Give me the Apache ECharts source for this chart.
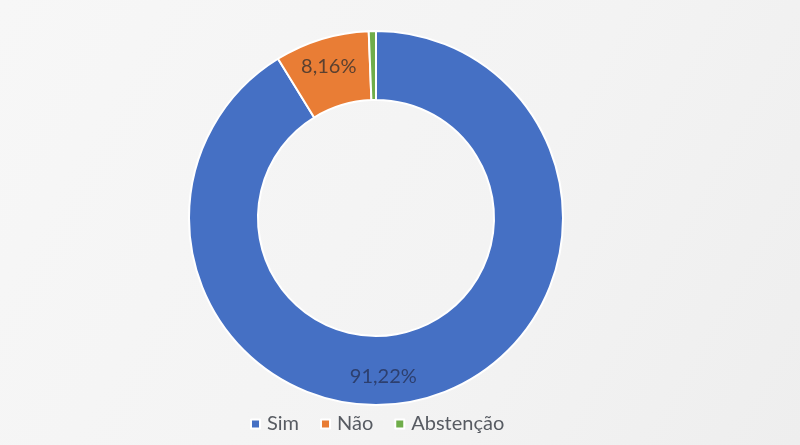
<!DOCTYPE html>
<html><head><meta charset="utf-8">
<script src="https://cdn.jsdelivr.net/npm/echarts@6/dist/echarts.min.js"></script>
<style>html,body{margin:0;padding:0;background:#f5f5f5;}#c{width:800px;height:445px;}</style>
</head><body><div id="c"></div>
<script>
const categories = ['Sim', 'Não', 'Abstenção'];
const values = [91.22, 8.16, 0.62];
const colors = ['#4570C4', '#E97D35', '#6FAD4A'];

const chart = echarts.init(document.getElementById('c'));
chart.setOption({
  backgroundColor: {
    type: 'linear', x: 0, y: 0, x2: 1, y2: 1,
    colorStops: [{offset: 0, color: '#f7f7f7'}, {offset: 0.6, color: '#f3f3f3'}, {offset: 1, color: '#eeeeee'}]
  },
  animation: false,
  color: colors,
  legend: {
    top: 414, left: 250, padding: 0,
    icon: 'rect', itemWidth: 9, itemHeight: 9, itemGap: 21,
    textStyle: {color: '#575b62', fontSize: 20, fontFamily: 'Lato', padding: [0, 0, 0, 2]},
    data: categories
  },
  series: [{
    type: 'pie',
    center: [376, 218],
    radius: [118, 187],
    startAngle: 90,
    clockwise: true,
    itemStyle: {borderColor: '#ffffff', borderWidth: 2},
    label: {
      show: true, position: 'inside',
      formatter: p => p.value.toFixed(2).replace('.', ',') + '%',
      fontSize: 20, fontFamily: 'Lato', color: '#5a4030'
    },
    labelLayout: function (p) {
      if (p.dataIndex === 0) return {dx: -35, dy: 9};
      return {dx: -2, dy: -3};
    },
    data: categories.map((n, i) => ({
      name: n, value: values[i],
      label: i === 2 ? {show: false} : (i === 0 ? {color: '#2d3f6e'} : {})
    }))
  }]
});
</script></body></html>
